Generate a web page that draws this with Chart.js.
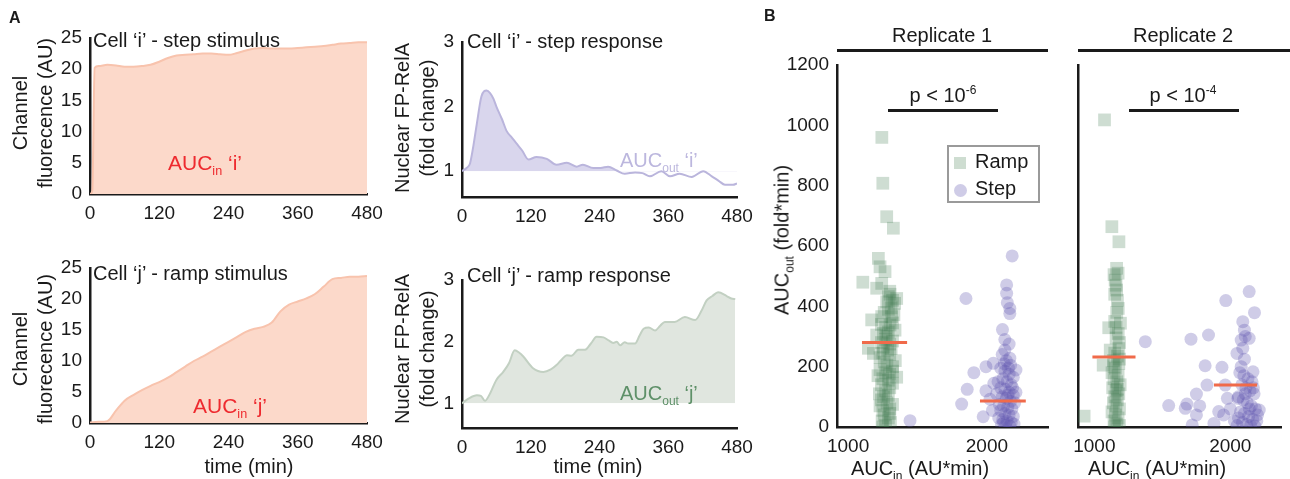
<!DOCTYPE html>
<html>
<head>
<meta charset="utf-8">
<script src="https://cdn.jsdelivr.net/npm/chart.js@4.4.0/dist/chart.umd.min.js"></script>
<style>
  body { margin: 0; background: #fff; }
  #fig { position: relative; width: 1290px; height: 479px; overflow: hidden;
         font-family: "Liberation Sans", Arial, sans-serif; color: #1a1a1a; }
  canvas { position: absolute; }
  .t { position: absolute; white-space: nowrap; line-height: 1; }
  .c { transform: translateX(-50%); }
  .rot { position: absolute; white-space: nowrap; text-align: center; line-height: 25px;
         font-size: 20px; transform: translate(-50%, -50%) rotate(-90deg); }
  .bar { position: absolute; background: #1a1a1a; height: 3px; }
  sub, sup { font-size: 60%; line-height: 0; }
  .legend { position: absolute; left: 947px; top: 145px; width: 93px; height: 58px;
            box-sizing: border-box; border: 2px solid #9a9a9a; }
</style>
</head>
<body>
<div id="fig">
  <canvas id="stepStim"></canvas>
  <canvas id="stepResp"></canvas>
  <canvas id="rampStim"></canvas>
  <canvas id="rampResp"></canvas>
  <canvas id="rep1"></canvas>
  <canvas id="rep2"></canvas>

  <div class="t" style="left:9px;top:10px;font-size:16px;font-weight:bold">A</div>
  <div class="t" style="left:764px;top:8px;font-size:16px;font-weight:bold">B</div>

  <div class="t" style="left:93px;top:30px;font-size:20px">Cell ‘i’ - step stimulus</div>
  <div class="t" style="left:467px;top:31px;font-size:20px">Cell ‘i’ - step response</div>
  <div class="t" style="left:93px;top:263px;font-size:20px">Cell ‘j’ - ramp stimulus</div>
  <div class="t" style="left:467px;top:265px;font-size:20px">Cell ‘j’ - ramp response</div>

  <div class="t" style="left:168px;top:152px;font-size:21px;color:#ee2a2f">AUC<sub>in</sub> ‘i’</div>
  <div class="t" style="left:193px;top:395px;font-size:21px;color:#ee2a2f">AUC<sub>in</sub> ‘j’</div>
  <div class="t" style="left:620px;top:150px;font-size:20px;color:#bcb7de">AUC<sub>out</sub> ‘i’</div>
  <div class="t" style="left:620px;top:383px;font-size:20px;color:#5e9068">AUC<sub>out</sub> ‘j’</div>

  <div class="rot" style="left:33px;top:113px">Channel<br>fluorecence (AU)</div>
  <div class="rot" style="left:33px;top:349px">Channel<br>fluorecence (AU)</div>
  <div class="rot" style="left:415px;top:118px">Nuclear FP-RelA<br>(fold change)</div>
  <div class="rot" style="left:415px;top:349px">Nuclear FP-RelA<br>(fold change)</div>
  <div class="rot" style="left:782px;top:240px">AUC<sub>out</sub> (fold*min)</div>

  <div class="t c" style="left:249px;top:456px;font-size:20px">time (min)</div>
  <div class="t c" style="left:598px;top:456px;font-size:20px">time (min)</div>
  <div class="t c" style="left:920px;top:458px;font-size:20px">AUC<sub>in</sub> (AU*min)</div>
  <div class="t c" style="left:1157px;top:458px;font-size:20px">AUC<sub>in</sub> (AU*min)</div>

  <div class="t c" style="left:942px;top:25px;font-size:20px">Replicate 1</div>
  <div class="t c" style="left:1183px;top:25px;font-size:20px">Replicate 2</div>
  <div class="bar" style="left:837px;width:211px;top:49px"></div>
  <div class="bar" style="left:1078px;width:212px;top:49px"></div>

  <div class="t c" style="left:943px;top:85px;font-size:20px">p &lt; 10<sup>-6</sup></div>
  <div class="t c" style="left:1183px;top:85px;font-size:20px">p &lt; 10<sup>-4</sup></div>
  <div class="bar" style="left:888px;width:110px;top:109px"></div>
  <div class="bar" style="left:1129px;width:110px;top:109px"></div>

  <div class="legend"></div>
  <div style="position:absolute;left:954px;top:157px;width:12px;height:12px;background:rgb(206,221,209)"></div>
  <div style="position:absolute;left:954px;top:184px;width:13px;height:13px;border-radius:50%;background:rgb(207,204,231)"></div>
  <div class="t" style="left:975px;top:151px;font-size:20px">Ramp</div>
  <div class="t" style="left:975px;top:178px;font-size:20px">Step</div>
</div>

<script>
// time courses (min)
const stepStimTime = [0, 4, 8, 15, 30, 45, 60, 75, 90, 105, 120, 135, 150, 165, 180, 195, 210, 225, 240, 255,
  270, 285, 300, 315, 330, 345, 360, 375, 390, 405, 420, 435, 450, 465, 480];
const stepStimVal = [0, 0.5, 20.2, 20.5, 20.7, 20.6, 20.4, 20.4, 20.5, 20.7, 21.2, 21.8, 22.2, 22.3, 22.4, 22.5,
  22.5, 22.4, 22.3, 22.6, 23.0, 23.3, 23.4, 23.3, 23.3, 23.3, 23.4, 23.5, 23.6, 23.7, 23.9, 24.1, 24.2, 24.3, 24.3];

const rampStimTime = [0, 15, 30, 45, 60, 75, 90, 105, 120, 135, 150, 165, 180, 195, 210, 225, 240, 255,
  270, 285, 300, 315, 330, 345, 360, 375, 390, 405, 420, 435, 450, 465, 480];
const rampStimVal = [0.1, 0.2, 0.3, 2, 3.6, 4.5, 5.3, 6, 6.6, 7.3, 8.2, 9.1, 10, 10.7, 11.5, 12.3, 13.1, 13.9,
  14.7, 15.2, 15.5, 16.2, 18.0, 19.1, 19.6, 20.1, 20.8, 22, 23.2, 23.4, 23.6, 23.6, 23.7];

const stepRespTime = [0, 8, 14, 20, 26, 34, 43, 49, 55, 60, 70, 78, 87, 95, 105, 116, 130, 148, 165, 183,
  200, 211, 229, 242, 255, 270, 284, 302, 315, 328, 348, 363, 380, 401, 421, 436, 448, 459, 473, 480];
const stepRespVal = [1.0, 1.05, 1.12, 1.4, 1.74, 2.16, 2.25, 2.21, 2.12, 2.0, 1.8, 1.62, 1.52, 1.43, 1.32, 1.18,
  1.22, 1.19, 1.10, 1.13, 1.07, 1.1, 1.05, 1.05, 1.07, 1.01, 0.96, 0.98, 0.97, 0.92, 1.0, 0.92, 0.96, 0.91, 1.0,
  0.92, 0.85, 0.79, 0.79, 0.81];

const rampRespTime = [0, 12, 26, 33, 40, 49, 60, 72, 82, 92, 100, 107, 124, 142, 155, 165, 175, 183, 191, 203,
  215, 225, 235, 247, 256, 264, 270, 276, 284, 290, 302, 310, 317, 326, 337, 346, 354, 371, 389, 407, 418, 427,
  437, 447, 462, 470, 477];
const rampRespVal = [1.0, 1.08, 1.13, 1.12, 1.04, 1.16, 1.38, 1.51, 1.65, 1.86, 1.82, 1.76, 1.57, 1.51, 1.55,
  1.62, 1.72, 1.78, 1.77, 1.87, 1.87, 1.97, 2.08, 2.07, 2.02, 1.98, 2.0, 1.94, 1.99, 1.97, 1.97, 2.1, 2.21, 2.23,
  2.18, 2.26, 2.32, 2.32, 2.4, 2.35, 2.5, 2.67, 2.74, 2.8, 2.74, 2.7, 2.69];

const timeTicks = [0, 120, 240, 360, 480];
const stimTicks = [0, 5, 10, 15, 20, 25];
const respTicks = [1, 2, 3];
const aucOutTicks = [0, 200, 400, 600, 800, 1000, 1200];
const aucInTicks = [1000, 2000];

// [AUC_in, AUC_out] per cell
const rep1Ramp = [[1243,960],[1250,808],[1278,697],[1326,659],[1218,559],[1230,531],[1266,515],[1106,480],
  [1206,460],[1242,476],[1290,432],[1302,440],[1350,426],[1278,415],[1320,420],[1335,410],[1300,450],
  [1170,355],[1242,366],[1314,366],[1260,380],[1290,390],[1330,372],[1310,395],
  [1302,338],[1254,310],[1338,321],[1206,305],[1270,330],[1290,315],[1320,345],[1240,340],[1280,300],
  [1146,261],[1182,244],[1270,290],[1300,275],[1255,265],[1320,285],[1240,280],[1285,255],[1310,260],
  [1230,230],[1260,215],[1300,240],[1280,205],[1340,220],[1250,245],[1320,200],
  [1230,190],[1270,180],[1300,175],[1250,160],[1350,165],[1290,155],[1215,170],[1320,185],
  [1240,140],[1270,120],[1300,130],[1225,110],[1290,105],[1320,145],[1255,100],
  [1240,90],[1280,80],[1300,60],[1250,55],[1320,75],[1230,70],
  [1260,40],[1290,30],[1245,20],[1305,15],[1270,5],[1300,45],[1250,0]];
const rep1Step = [[2182,567],[1849,426],[2142,471],[2142,443],[2147,412],[2165,393],[2165,376],[2112,323],
  [2129,290],[2160,275],[2129,255],[2165,228],[2046,211],[1993,200],[2209,189],[1906,180],[1858,125],
  [1993,120],[2050,145],[2209,115],[1818,76],[2022,92],[1973,34],[2040,55],[1446,21],
  [2110,240],[2140,220],[2170,205],[2100,195],[2130,185],[2160,175],[2190,165],[2115,160],[2145,150],
  [2175,140],[2100,130],[2130,125],[2160,115],[2190,105],[2110,100],[2140,95],[2170,85],[2200,80],
  [2120,70],[2150,65],[2180,60],[2100,55],[2130,45],[2160,40],[2190,35],[2115,25],[2145,20],[2175,15],
  [2105,8],[2135,5],[2165,3],[2195,10],[2080,150],[2070,110],[2090,75],[2085,30],[2155,195],[2125,210],
  [2185,130],[2150,105],[2120,15]];
const rep2Ramp = [[1075,1018],[1129,664],[1181,614],[925,36],[1164,526],[1153,487],[1175,510],[1160,470],
  [1164,454],[1150,440],[1176,393],[1165,380],[1192,344],[1106,329],[1176,310],[1160,295],[1185,280],
  [1117,255],[1150,245],[1170,235],[1065,205],[1140,220],[1180,210],[1155,195],[1130,180],[1175,170],
  [1145,160],[1165,150],[1190,140],[1135,130],[1160,120],[1180,110],[1150,100],[1170,90],[1140,80],
  [1160,70],[1185,60],[1130,50],[1155,40],[1175,30],[1145,20],[1165,10],[1185,5],[1150,0],[1170,125],
  [1145,200],[1180,260],[1160,330],[1150,350],[1170,420],[1145,505],[1185,225]];
const rep2Step = [[1375,283],[2139,449],[1967,419],[2178,379],[2092,349],[2104,321],[2110,300],[2080,288],
  [2139,294],[2092,261],[2049,244],[1711,291],[1840,305],[1815,203],[1939,198],[2104,225],[2080,200],
  [2167,183],[1829,139],[1963,139],[1751,109],[1547,71],[1681,76],[1669,62],[1775,70],[1751,40],[1979,95],
  [1915,51],[1951,40],[1720,7],[1880,12],[2056,95],[2213,56],
  [2070,180],[2100,170],[2130,160],[2160,150],[2085,140],[2115,130],[2145,120],[2175,110],[2060,100],
  [2095,90],[2125,80],[2155,70],[2185,60],[2075,50],[2105,45],[2135,35],[2165,25],[2195,20],[2090,15],
  [2120,8],[2150,5],[2180,3],[2060,30],[2200,40],[2110,110],[2140,60],[2170,130],[2000,60],[2030,20],[2050,5]];

// medians: [from AUC_in, to AUC_in, median AUC_out]
const rep1Medians = [[1100, 1425, 280], [1950, 2280, 86]];
const rep2Medians = [[986, 1303, 232], [1880, 2197, 139]];

const INK = '#1a1a1a';
const FONT = { family: '"Liberation Sans", Arial, sans-serif', size: 19 };

function place(id, box, area) {
  const c = document.getElementById(id);
  c.width = box.w; c.height = box.h;
  c.style.left = box.x + 'px'; c.style.top = box.y + 'px';
  return {
    canvas: c,
    yw: area.l - box.x,
    xh: box.y + box.h - area.b,
    padding: { left: 0, top: area.t - box.y, right: box.x + box.w - area.r, bottom: 0 }
  };
}

function axis(min, max, ticks, fit, showLabels) {
  return {
    type: 'linear', min: min, max: max,
    grid: { display: false, drawTicks: false },
    border: { display: true, color: INK, width: 2.5 },
    ticks: { display: showLabels !== false, font: FONT, color: INK, padding: 8, autoSkip: false,
             maxRotation: 0, callback: v => String(v) },
    afterBuildTicks: s => { s.ticks = ticks.map(v => ({ value: v })); },
    afterFit: fit
  };
}

function pts(xs, ys) { return xs.map((x, i) => ({ x: x, y: ys[i] })); }

function timeChart(id, box, area, xs, ys, yMin, yMax, yTicks, line, fillColor, base) {
  const g = place(id, box, area);
  new Chart(g.canvas, {
    type: 'line',
    data: { datasets: [{
      data: pts(xs, ys), borderColor: line, borderWidth: 2, pointRadius: 0,
      cubicInterpolationMode: 'monotone',
      fill: base === undefined ? 'origin' : { target: { value: base }, above: fillColor, below: 'rgba(0,0,0,0)' },
      backgroundColor: fillColor
    }] },
    options: {
      responsive: false, animation: false, events: [],
      layout: { padding: g.padding },
      plugins: { legend: { display: false }, tooltip: { enabled: false } },
      scales: {
        x: axis(0, 480, timeTicks, s => { s.height = g.xh; }),
        y: axis(yMin, yMax, yTicks, s => { s.width = g.yw; })
      }
    }
  });
}

timeChart('stepStim', { x: 0, y: 0, w: 400, h: 240 }, { l: 90, t: 38, r: 367, b: 194 },
  stepStimTime, stepStimVal, 0, 25, stimTicks, '#f8c3ad', '#fcd9ca');
timeChart('rampStim', { x: 0, y: 240, w: 400, h: 239 }, { l: 90, t: 268, r: 367, b: 423 },
  rampStimTime, rampStimVal, 0, 25, stimTicks, '#f8c3ad', '#fcd9ca');
timeChart('stepResp', { x: 380, y: 0, w: 400, h: 240 }, { l: 462, t: 42, r: 737, b: 197 },
  stepRespTime, stepRespVal, 0.6, 3, respTicks, '#bab5dc', '#d9d6ed', 1);
timeChart('rampResp', { x: 380, y: 240, w: 400, h: 239 }, { l: 462, t: 280, r: 737, b: 428 },
  rampRespTime, rampRespVal, 0.6, 3, respTicks, '#c2d0c2', '#e0e6df', 1);

function scatterChart(id, box, area, xMin, xMax, ramp, step, medians, yLabels) {
  const g = place(id, box, area);
  const toXY = a => a.map(p => ({ x: p[0], y: p[1] }));
  const medSets = medians.map(m => ({
    type: 'line', data: [{ x: m[0], y: m[2] }, { x: m[1], y: m[2] }],
    borderColor: '#f06a4a', borderWidth: 3, pointRadius: 0, order: -1
  }));
  new Chart(g.canvas, {
    type: 'scatter',
    data: { datasets: [
      { label: 'Ramp', data: toXY(ramp), pointStyle: 'rect', pointRadius: 9, borderWidth: 0,
        backgroundColor: 'rgba(60,120,75,0.25)' },
      { label: 'Step', data: toXY(step), pointStyle: 'circle', pointRadius: 6.5, borderWidth: 0,
        backgroundColor: 'rgba(95,85,175,0.3)' }
    ].concat(medSets) },
    options: {
      responsive: false, animation: false, events: [],
      layout: { padding: g.padding },
      plugins: { legend: { display: false }, tooltip: { enabled: false } },
      scales: {
        x: axis(xMin, xMax, aucInTicks, s => { s.height = g.xh; }),
        y: axis(0, 1200, aucOutTicks, s => { s.width = g.yw; }, yLabels)
      }
    }
  });
}

scatterChart('rep1', { x: 760, y: 40, w: 300, h: 439 }, { l: 837, t: 65, r: 1048, b: 427 },
  920, 2440, rep1Ramp, rep1Step, rep1Medians, true);
scatterChart('rep2', { x: 1060, y: 40, w: 230, h: 439 }, { l: 1078, t: 65, r: 1290, b: 427 },
  880, 2373, rep2Ramp, rep2Step, rep2Medians, false);
</script>
</body>
</html>
